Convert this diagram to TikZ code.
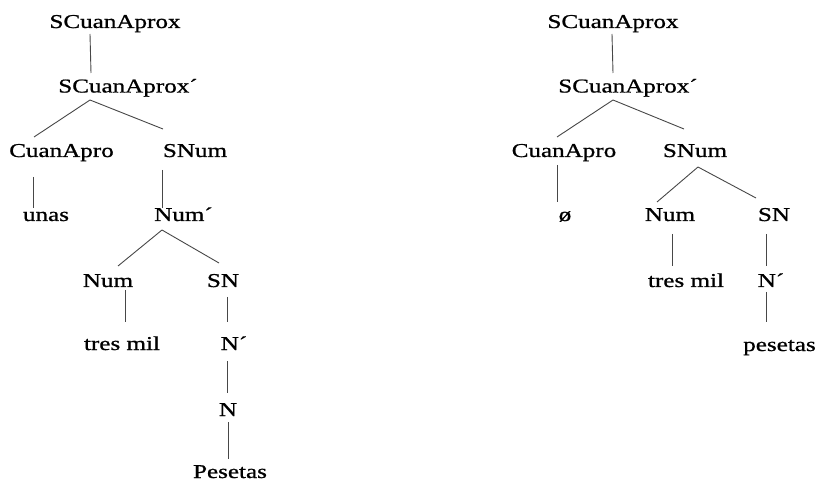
\documentclass[tikz,border=0pt]{standalone}
\usepackage{fontspec}
\setmainfont{Liberation Serif}[FakeStretch=1.28, FakeBold=0.9]
\tikzset{
  lbl/.style={anchor=base, inner sep=0pt, font=\fontsize{19.6}{24}\selectfont, text=black},
  branch/.style={draw=black!72, line width=0.9pt}
}
% branch from node #1 (offset #2 from its base) to node #3 (offset #4 from its base)
\newcommand\treeedge[4]{\draw[branch] ([shift={(#2)}]#1.base) -- ([shift={(#4)}]#3.base);}
\begin{document}
\begin{tikzpicture}[x=1pt, y=-1pt]
\useasboundingbox (0,0) rectangle (817,481);

% ---- left tree ----
\node[lbl] (L1)    at (115,28)    {SCuanAprox};
\node[lbl] (L2)    at (128,92.5)  {SCuanAprox´};
\node[lbl] (cuan)  at (61.5,157)  {CuanApro};
\node[lbl] (snum)  at (195,157)   {SNum};
\node[lbl] (unas)  at (46,221)    {unas};
\node[lbl] (nump)  at (183.5,221) {Num´};
\node[lbl] (num)   at (108,287)   {Num};
\node[lbl] (sn)    at (223,287)   {SN};
\node[lbl] (tres)  at (122,350)   {tres mil};
\node[lbl] (np)    at (234,350)   {N´};
\node[lbl] (n)     at (228,416)   {N};
\node[lbl] (pes)   at (230,478)   {Pesetas};

\treeedge{L1}{-25,6}{L2}{-37,-19.5}
\treeedge{L2}{-38,7.5}{cuan}{-27.5,-20}
\treeedge{L2}{-38,7.5}{snum}{-32,-28}
\treeedge{cuan}{-28.5,20}{unas}{-13,-13}
\treeedge{snum}{-33,13}{nump}{-21.5,-13}
\treeedge{nump}{-21.5,9}{num}{10,-21}
\treeedge{nump}{-21.5,9}{sn}{-4,-24}
\treeedge{num}{17,3}{tres}{3,-28}
\treeedge{sn}{4,10}{np}{-7,-28}
\treeedge{np}{-7,11}{n}{-1,-23}
\treeedge{n}{0,6}{pes}{-2,-19}

% ---- right tree ----
\node[lbl] (R1)    at (613,28)    {SCuanAprox};
\node[lbl] (R2)    at (628,92.5)  {SCuanAprox´};
\node[lbl] (rcuan) at (564,157)   {CuanApro};
\node[lbl] (rsnum) at (695,157)   {SNum};
\node[lbl] (zero)  at (565,221)   {ø};
\node[lbl] (rnum)  at (670,221)   {Num};
\node[lbl] (rsn)   at (774,221)   {SN};
\node[lbl] (rtres) at (686,287)   {tres mil};
\node[lbl] (rnp)   at (771,287)   {N´};
\node[lbl] (rpes)  at (779.5,351) {pesetas};

\treeedge{R1}{-1,6}{R2}{-15,-19.5}
\treeedge{R2}{-15,7.5}{rcuan}{-7,-20}
\treeedge{R2}{-15,7.5}{rsnum}{-11,-28}
\treeedge{rcuan}{-7,8}{zero}{-8,-19}
\treeedge{rsnum}{3,10}{rnum}{-13,-19}
\treeedge{rsnum}{3,10}{rsn}{-18,-23}
\treeedge{rnum}{2,13}{rtres}{-14,-21}
\treeedge{rsn}{-8,13}{rnp}{-5,-21}
\treeedge{rnp}{-5,5}{rpes}{-13.5,-29}
\end{tikzpicture}
\end{document}
